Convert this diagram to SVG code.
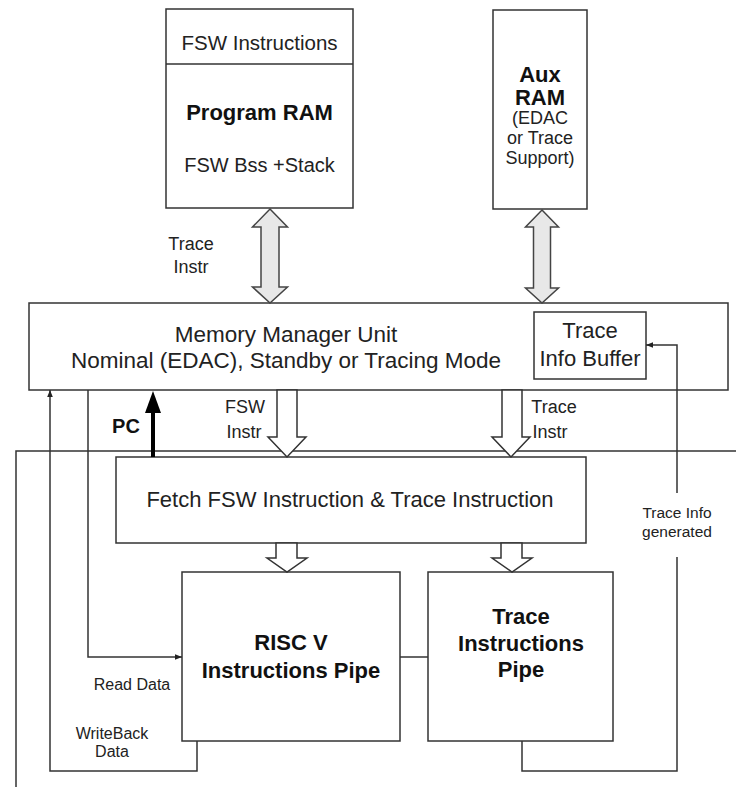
<svg xmlns="http://www.w3.org/2000/svg" width="736" height="787" viewBox="0 0 736 787">
<defs>
<style>
.box{fill:#fff;stroke:#333;stroke-width:1.5}
.t{font-family:"Liberation Sans",Arial,sans-serif;fill:#222;text-anchor:middle}
.b{font-weight:bold;fill:#111}
.ln{fill:none;stroke:#333;stroke-width:1.5}
.dbl{fill:#e8e8e8;stroke:#444;stroke-width:1.5;stroke-linejoin:miter}
.hol{fill:#fff;stroke:#333;stroke-width:1.5}
</style>
<marker id="ah" viewBox="0 0 10 10" refX="10" refY="5" markerWidth="7" markerHeight="7" markerUnits="userSpaceOnUse" orient="auto">
<path d="M0,1 L10,5 L0,9 Z" fill="#222"/>
</marker>
</defs>
<rect width="736" height="787" fill="#fff"/>

<g id="program-ram">
<rect class="box" x="166" y="9" width="187" height="199"/>
<line class="ln" x1="166" y1="64" x2="353" y2="64"/>
<text class="t" x="259.5" y="50" font-size="20.5">FSW Instructions</text>
<text class="t b" x="259.5" y="120" font-size="22">Program RAM</text>
<text class="t" x="259.5" y="172" font-size="20">FSW Bss +Stack</text>
</g>

<g id="aux-ram">
<rect class="box" x="493" y="10" width="94" height="199"/>
<text class="t b" x="540" y="82" font-size="22">Aux</text>
<text class="t b" x="540" y="105" font-size="22">RAM</text>
<text class="t" x="540" y="124" font-size="18">(EDAC</text>
<text class="t" x="540" y="144" font-size="18">or Trace</text>
<text class="t" x="540" y="164" font-size="18">Support)</text>
</g>

<g id="label-trace-instr-top">
<text class="t" x="191" y="250" font-size="18">Trace</text>
<text class="t" x="191" y="273" font-size="18">Instr</text>
</g>

<g id="mmu">
<rect class="box" x="29" y="303" width="699" height="87"/>
<text class="t" x="286" y="342" font-size="22.5">Memory Manager Unit</text>
<text class="t" x="286" y="368" font-size="22.5">Nominal (EDAC), Standby or Tracing Mode</text>
</g>

<g id="trace-info-buffer">
<rect class="box" x="534" y="312" width="112" height="67"/>
<text class="t" x="590" y="338" font-size="22">Trace</text>
<text class="t" x="590" y="366" font-size="22">Info Buffer</text>
</g>

<g id="labels">
<text class="t b" x="126" y="433" font-size="20" fill="#000">PC</text>
<text class="t" x="245" y="413" font-size="18">FSW</text>
<text class="t" x="244" y="438" font-size="18">Instr</text>
<text class="t" x="554" y="413" font-size="18">Trace</text>
<text class="t" x="550" y="438" font-size="18">Instr</text>
<text class="t" x="677" y="518" font-size="15.5">Trace Info</text>
<text class="t" x="677" y="537" font-size="15.5">generated</text>
<text class="t" x="132" y="690" font-size="16">Read Data</text>
<text class="t" x="112" y="739" font-size="16">WriteBack</text>
<text class="t" x="112" y="757" font-size="16">Data</text>
</g>

<g id="fetch">
<rect class="box" x="116" y="457" width="470" height="86"/>
<text class="t" x="350" y="507" font-size="22">Fetch FSW Instruction &amp; Trace Instruction</text>
</g>

<g id="riscv-pipe">
<rect class="box" x="182" y="572" width="218" height="169"/>
<text class="t b" x="291" y="650" font-size="22">RISC V</text>
<text class="t b" x="291" y="678" font-size="22">Instructions Pipe</text>
</g>

<g id="trace-pipe">
<rect class="box" x="428" y="572" width="185" height="169"/>
<text class="t b" x="521" y="624" font-size="22">Trace</text>
<text class="t b" x="521" y="651" font-size="22">Instructions</text>
<text class="t b" x="521" y="677" font-size="22">Pipe</text>
</g>

<g id="connectors">
<path class="ln" d="M16,787 L16,451 L736,451"/>
<path class="dbl" d="M270,209 L287.5,227 L279,227 L279,287 L287.5,287 L270,303 L252.5,287 L261,287 L261,227 L252.5,227 Z"/>
<path class="dbl" d="M542,210 L558.5,227 L550.5,227 L550.5,288 L558.5,288 L542,303 L525.5,288 L533.5,288 L533.5,227 L525.5,227 Z"/>
<path class="hol" d="M277,390 L297,390 L297,437 L306,437 L287,457 L268,437 L277,437 Z"/>
<path class="hol" d="M502,390 L522,390 L522,437 L530,437 L511,457 L492,437 L502,437 Z"/>
<path class="hol" d="M276,543 L297,543 L297,558 L307,558 L287,572 L267,558 L276,558 Z"/>
<path class="hol" d="M501,543 L522,543 L522,558 L532,558 L512,572 L492,558 L501,558 Z"/>
<line x1="153" y1="457" x2="153" y2="410" stroke="#000" stroke-width="4"/>
<path d="M145,413 L153,391 L161,413 Z" fill="#000"/>
<path class="ln" d="M88,390 L88,657 L182,657" marker-end="url(#ah)"/>
<path class="ln" d="M197,741 L197,771 L50,771 L50,390" marker-end="url(#ah)"/>
<path class="ln" d="M400,657 L428,657"/>
<path class="ln" d="M522,741 L522,771 L677,771 L677,557"/>
<path class="ln" d="M677,493 L677,345 L646,345" marker-end="url(#ah)"/>
</g>
</svg>
